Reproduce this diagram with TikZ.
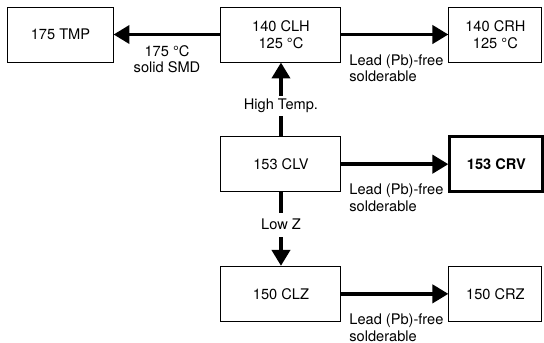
\documentclass[tikz,border=0pt]{standalone}
\usepackage{fontspec}
\setmainfont{TeX Gyre Heros}
\usetikzlibrary{arrows.meta,positioning}
\tikzset{
  crnode/.style={
    draw,
    align=center,
    minimum height=14.55mm,
    minimum width=31.75mm,
    inner sep=2pt,
    font=\fontsize{11}{12.5}\selectfont,
    line width=0.75pt
  },
  crside/.style={crnode, minimum width=24.6mm},
  crtmp/.style={crnode, minimum width=27.8mm},
  crmain/.style={crside, line width=2.25pt, font=\fontsize{11}{12.5}\selectfont\bfseries},
  crarrow/.style={-{Triangle[length=12pt,width=13.5pt]}, line width=3pt},
  crnote/.style={align=left, inner sep=0pt, font=\fontsize{11}{12.5}\selectfont},
  crtag/.style={fill=white, inner xsep=2pt, inner ysep=2pt, font=\fontsize{11}{12.5}\selectfont}
}
\begin{document}
\begin{tikzpicture}[
  node distance=19.5mm and 28.3mm
]
\useasboundingbox (-74.35mm,9.13mm) rectangle (69.6mm,-81.6mm);
\node[crnode] (clh) {140 CLH\\125 °C};
\node[crtmp, left=of clh] (tmp) {175 TMP};
\node[crside, right=of clh] (crh) {140 CRH\\125 °C};
\node[crnode, below=of clh] (clv) {153 CLV};
\node[crmain, right=of clv] (crv) {153 CRV};
\node[crnode, below=of clv] (clz) {150 CLZ};
\node[crside, right=of clz] (crz) {150 CRZ};
\draw[crarrow] (clh) -- node[crnote, align=center, below=6.5pt] {175 °C\\solid SMD} (tmp);
\draw[crarrow] (clh) -- node[crnote, pos=0, below right, xshift=4.5pt, yshift=-13.5pt] {Lead (Pb)-free\\solderable} (crh);
\draw[crarrow] (clv) -- node[crnote, pos=0, below right, xshift=4.5pt, yshift=-13.5pt] {Lead (Pb)-free\\solderable} (crv);
\draw[crarrow] (clz) -- node[crnote, pos=0, below right, xshift=4.5pt, yshift=-13.5pt] {Lead (Pb)-free\\solderable} (crz);
\draw[crarrow] (clv) -- node[crtag, pos=0.41] {High Temp.} (clh);
\draw[crarrow] (clv) -- node[crtag, pos=0.44, inner ysep=5pt] {Low Z} (clz);
\end{tikzpicture}
\end{document}
